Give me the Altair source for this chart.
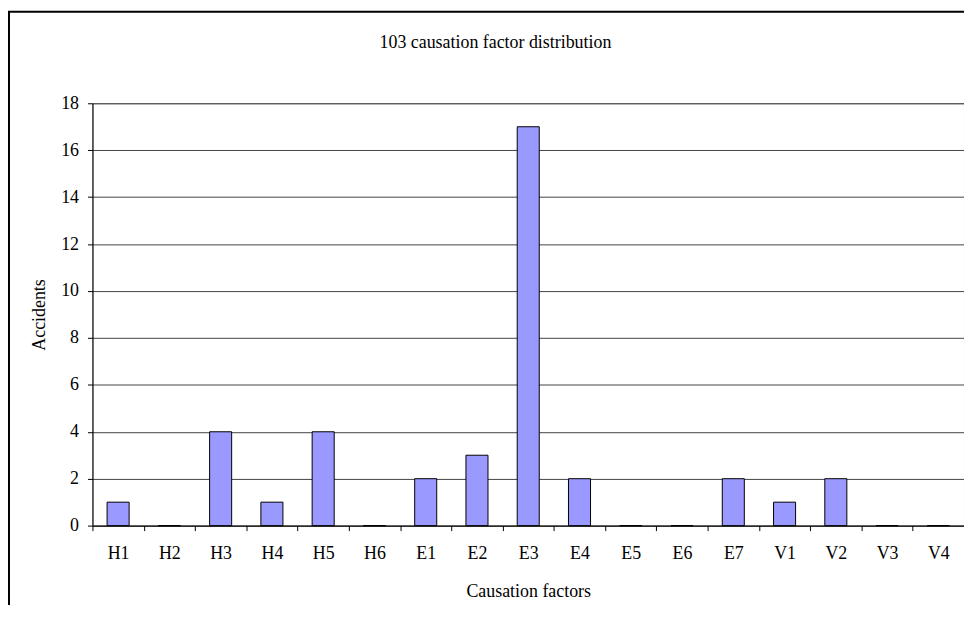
import altair as alt
import pandas as pd

factors = ["H1", "H2", "H3", "H4", "H5", "H6", "E1", "E2", "E3", "E4",
           "E5", "E6", "E7", "V1", "V2", "V3", "V4"]
accidents = [1, 0, 4, 1, 4, 0, 2, 3, 17, 2, 0, 0, 2, 1, 2, 0, 0]
y_ticks = [0, 2, 4, 6, 8, 10, 12, 14, 16, 18]

df = pd.DataFrame({"factor": factors, "accidents": accidents})

FONT = "Liberation Serif"
FS = 18

bars = alt.Chart(df).mark_bar(
    color="#9999FF", stroke="black", strokeWidth=1,
    width=alt.RelativeBandSize(0.43)
).encode(
    x=alt.X("factor:N", sort=factors,
            scale=alt.Scale(paddingInner=0, paddingOuter=0),
            axis=alt.Axis(title="Causation factors", labelAngle=0, tickBand="extent",
                          grid=False, domainColor="black", tickColor="black",
                          tickSize=5, labelPadding=14, titlePadding=20,
                          labelFont=FONT, labelFontSize=FS, labelColor="black",
                          titleFont=FONT, titleFontSize=FS, titleFontWeight="normal",
                          titleColor="black")),
    y=alt.Y("accidents:Q", scale=alt.Scale(domain=[0, 18], nice=False),
            axis=alt.Axis(title="Accidents", values=y_ticks, grid=True,
                          gridColor="#444444", domainColor="black", tickColor="black",
                          tickSize=5, labelPadding=9, titlePadding=12,
                          labelFont=FONT, labelFontSize=FS, labelColor="black",
                          titleFont=FONT, titleFontSize=FS, titleFontWeight="normal",
                          titleColor="black"))
)

frame = alt.Chart(pd.DataFrame({"a": [0]})).mark_rect(
    fill="transparent", stroke="black", strokeWidth=2
).encode(x=alt.value(-84), x2=alt.value(900), y=alt.value(-92), y2=alt.value(560))

chart = alt.layer(frame, bars).properties(
    width=877, height=425,
    autosize=alt.AutoSizeParams(type="none"),
    padding={"left": 85, "top": 94, "right": 0, "bottom": 78},
    title=alt.TitleParams("103 causation factor distribution", font=FONT, fontSize=FS,
                          fontWeight="normal", color="black", anchor="middle",
                          frame="group", dx=-33, offset=-41),
).configure_view(stroke="#808080")

chart.save("out.html", embed_options={"renderer": "svg", "actions": False})
